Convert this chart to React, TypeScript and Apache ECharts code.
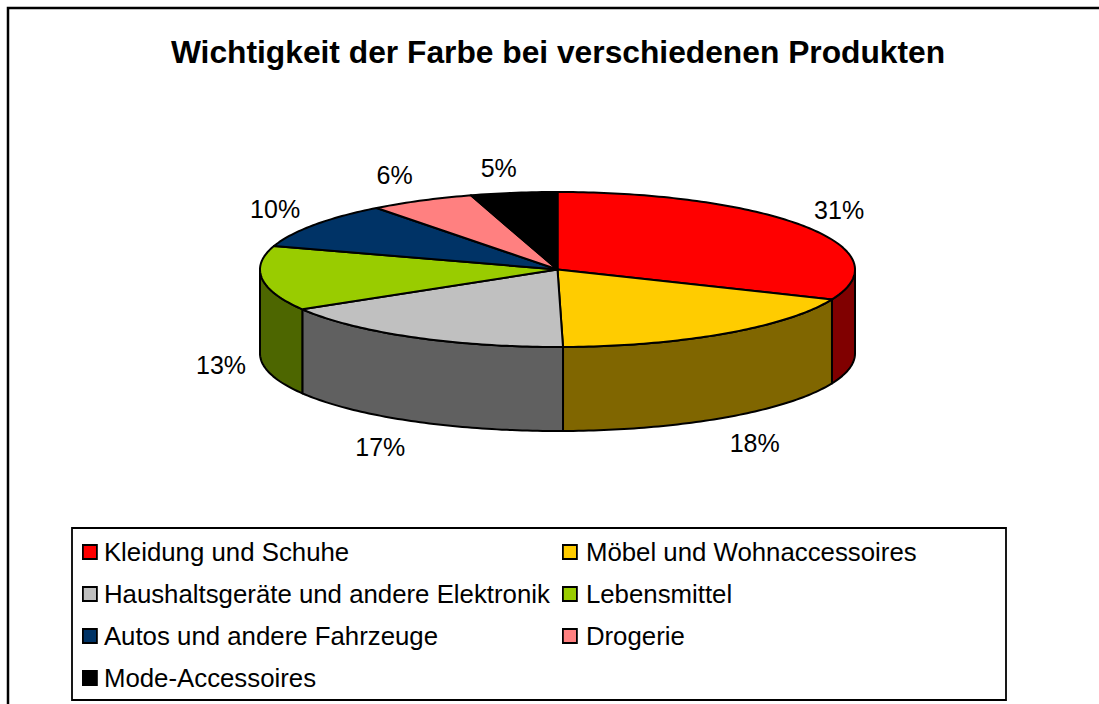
import React, { useEffect, useRef } from "react";
import * as echarts from "echarts";

const TITLE = "Wichtigkeit der Farbe bei verschiedenen Produkten";
const categories = [
  "Kleidung und Schuhe",
  "Möbel und Wohnaccessoires",
  "Haushaltsgeräte und andere Elektronik",
  "Lebensmittel",
  "Autos und andere Fahrzeuge",
  "Drogerie",
  "Mode-Accessoires",
];
const values = [31.3, 18.4, 16.7, 13.49, 9.7, 5.7, 4.7];
const topColors = ["#ff0000", "#ffcc00", "#c0c0c0", "#99cc00", "#003366", "#ff8080", "#000000"];
const sideColors = ["#800000", "#806600", "#606060", "#4d6600", "#001a33", "#804040", "#000000"];

// Layout of the tilted pie
const CX = 557.5;
const CY = 269.5;
const RX = 297.5;
const RY = 77.5;
const DEPTH = 84;
const LINE = 2;
// Label offset from the rim point at each slice's mid angle
const labelNudges: [number, number][] = [
  [34, -17],
  [30, 109],
  [-33, 110],
  [-41, 87],
  [-39, -16],
  [-27, -26],
  [-15, -25],
];

const total = values.reduce((a, b) => a + b, 0);
const rim = (deg: number, dy = 0): [number, number] => {
  const r = (deg * Math.PI) / 180;
  return [CX + RX * Math.sin(r), CY - RY * Math.cos(r) + dy];
};
const arcPoints = (a0: number, a1: number, dy = 0): [number, number][] => {
  const n = Math.max(2, Math.ceil(Math.abs(a1 - a0)));
  const pts: [number, number][] = [];
  for (let i = 0; i <= n; i++) pts.push(rim(a0 + ((a1 - a0) * i) / n, dy));
  return pts;
};

const makeSeries = (index: number) => ({
  type: "custom",
  name: categories[index],
  coordinateSystem: "none",
  silent: true,
  itemStyle: { color: topColors[index] },
  data: [[values[index]]],
  renderItem: (_p: any, api: any) => {
    const before = values.slice(0, index).reduce((a, b) => a + b, 0);
    const value = api.value(0) as number;
    const start = (before / total) * 360;
    const end = ((before + value) / total) * 360;
    const mid = (start + end) / 2;
    const children: any[] = [];
    const sStart = Math.max(start, 90);
    const sEnd = Math.min(end, 270);
    if (sEnd > sStart) {
      children.push({
        type: "polygon",
        shape: { points: [...arcPoints(sStart, sEnd), ...arcPoints(sEnd, sStart, DEPTH)] },
        style: { fill: sideColors[index], stroke: "#000", lineWidth: LINE, lineJoin: "round" },
      });
    }
    children.push({
      type: "polygon",
      shape: { points: [[CX, CY], ...arcPoints(start, end)] },
      style: { fill: topColors[index], stroke: "#000", lineWidth: LINE, lineJoin: "round" },
    });
    const [lx, ly] = rim(mid);
    children.push({
      type: "text",
      x: lx + labelNudges[index][0],
      y: ly + labelNudges[index][1],
      style: {
        text: `${Math.round(value)}%`,
        fill: "#000",
        font: '25px "Liberation Sans", Arial, sans-serif',
        align: "center",
        verticalAlign: "middle",
      },
    });
    return { type: "group", children };
  },
});

const legendBase = {
  orient: "vertical" as const,
  icon: "rect",
  itemWidth: 14,
  itemHeight: 14,
  itemGap: 16,
  selectedMode: false,
  padding: 0,
  top: 539,
};
const legendText = (gap: number) => ({
  fontFamily: '"Liberation Sans", Arial, sans-serif',
  fontSize: 25.8,
  lineHeight: 26,
  color: "#000",
  padding: [0, 0, 0, gap],
});
const legendData = (names: string[]) =>
  names.map((name) => ({
    name,
    itemStyle: {
      color: topColors[categories.indexOf(name)],
      borderColor: "#000",
      borderWidth: 1.8,
    },
  }));

export default function App() {
  const ref = useRef<HTMLDivElement>(null);
  useEffect(() => {
    document.body.style.margin = "0";
    const chart = echarts.init(ref.current!, undefined, { renderer: "svg" });
    chart.setOption({
      animation: false,
      backgroundColor: "#fff",
      title: {
        text: TITLE,
        left: 558,
        top: 31,
        padding: [5, 11, 5, 0],
        textAlign: "center",
        textStyle: {
          fontFamily: '"Liberation Sans", Arial, sans-serif',
          fontSize: 31.75,
          fontWeight: "bold",
          color: "#000",
        },
      },
      legend: [
        {
          ...legendBase,
          left: 82,
          textStyle: legendText(2),
          data: legendData([categories[0], categories[2], categories[4], categories[6]]),
        },
        {
          ...legendBase,
          left: 562,
          textStyle: legendText(4),
          data: legendData([categories[1], categories[3], categories[5]]),
        },
      ],
      graphic: [
        {
          type: "rect",
          shape: { x: 8, y: 8, width: 1300, height: 900 },
          style: { fill: "none", stroke: "#000", lineWidth: 2.5 },
        },
        {
          type: "rect",
          shape: { x: 72, y: 528, width: 934, height: 172 },
          style: { fill: "none", stroke: "#000", lineWidth: 1.8 },
        },
      ],
      series: categories.map((_, i) => makeSeries(i)),
    });
    return () => chart.dispose();
  }, []);
  return <div ref={ref} style={{ position: "fixed", left: 0, top: 0, width: 1099, height: 704 }} />;
}
